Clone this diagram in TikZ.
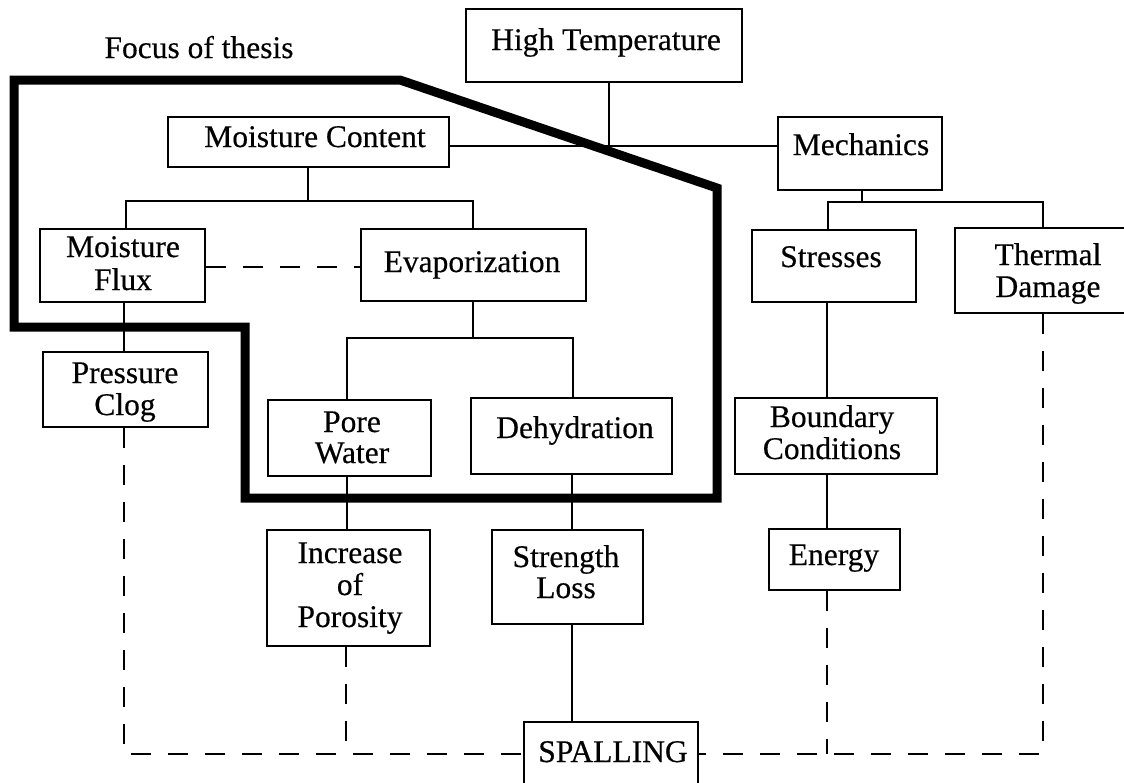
\documentclass[tikz,border=0pt]{standalone}
\usepackage{fontspec}
\setmainfont{Liberation Serif}[FakeBold=0.4]
\begin{document}
\begin{tikzpicture}[x=1pt,y=-1pt,
  box/.style={draw, line width=1.8pt, inner sep=0pt},
  txt/.style={anchor=base, inner sep=0pt, font=\fontsize{31.5}{32}\selectfont},
  link/.style={line width=1.8pt},
  dline/.style={line width=1.8pt, dash pattern=on 20pt off 17pt},
  focus/.style={line width=9pt, line join=miter}]
\useasboundingbox (0,0) rectangle (1124,782);
\fill[white] (0,0) rectangle (1124,782);

% boxes
\node[box, minimum width=276pt, minimum height=73pt] (ht) at (604,45.5) {};
\node[box, minimum width=281pt, minimum height=50pt] (mc) at (308.5,142) {};
\node[box, minimum width=164pt, minimum height=73pt] (mech) at (860,153.5) {};
\node[box, minimum width=165pt, minimum height=73pt] (mf) at (122.5,265.5) {};
\node[box, minimum width=225pt, minimum height=72pt] (ev) at (473.5,265) {};
\node[box, minimum width=164pt, minimum height=72pt] (st) at (834,266) {};
\node[box, minimum width=186pt, minimum height=85pt] (td) at (1048,270.5) {};
\node[box, minimum width=165pt, minimum height=75pt] (pc) at (125.5,389.5) {};
\node[box, minimum width=163pt, minimum height=76pt] (pw) at (349.5,438) {};
\node[box, minimum width=201pt, minimum height=76pt] (de) at (571.5,436) {};
\node[box, minimum width=202pt, minimum height=76pt] (bc) at (836,436) {};
\node[box, minimum width=163pt, minimum height=116pt] (ip) at (348.5,588) {};
\node[box, minimum width=151pt, minimum height=94pt] (sl) at (567.5,577) {};
\node[box, minimum width=131pt, minimum height=61pt] (en) at (834.5,559.5) {};
\node[box, minimum width=174pt, minimum height=78pt] (sp) at (611,761) {};

% texts
\node[txt] (tfocus) at (199,58) {Focus of thesis};
\node[txt] (tht) at (606,50) {High Temperature};
\node[txt] (tmc) at (315,147) {Moisture Content};
\node[txt] (tmech) at (861,155) {Mechanics};
\node[txt] (tmf1) at (123,257) {Moisture};
\node[txt] (tmf2) at (123,290) {Flux};
\node[txt] (tev) at (472,272) {Evaporization};
\node[txt] (tst) at (831,267) {Stresses};
\node[txt] (ttd1) at (1048,265) {Thermal};
\node[txt] (ttd2) at (1048,297) {Damage};
\node[txt] (tpc1) at (125,383) {Pressure};
\node[txt] (tpc2) at (125,415) {Clog};
\node[txt] (tpw1) at (352,432) {Pore};
\node[txt] (tpw2) at (352,463) {Water};
\node[txt] (tde) at (575,438) {Dehydration};
\node[txt] (tbc1) at (832,427) {Boundary};
\node[txt] (tbc2) at (832,459) {Conditions};
\node[txt] (tip1) at (350,563) {Increase};
\node[txt] (tip2) at (350,595) {of};
\node[txt] (tip3) at (350,627) {Porosity};
\node[txt] (tsl1) at (566,567) {Strength};
\node[txt] (tsl2) at (566,598) {Loss};
\node[txt] (ten) at (834,565) {Energy};
\node[txt] (tsp) at (613,762) {SPALLING};

% junction coordinates
\coordinate (j0) at (609,146);
\coordinate (j1) at (308,201);
\coordinate (c1l) at (126,201);
\coordinate (c1r) at (473,201);
\coordinate (j2) at (473,338);
\coordinate (c2l) at (347,338);
\coordinate (c2r) at (573,338);
\coordinate (j3) at (862,202);
\coordinate (c3l) at (828,202);
\coordinate (c3r) at (1043,202);
\coordinate (xa) at (124,0);
\coordinate (xb) at (347,0);
\coordinate (xc) at (572,0);
\coordinate (xd) at (827,0);
\coordinate (yd) at (0,267);
\coordinate (dl) at (124,754);
\coordinate (dr) at (1043,754);
\coordinate (dip) at (346,754);
\coordinate (den) at (827,754);

% solid connectors
\draw[link] (ht.south -| j0) -- (j0);
\draw[link] (mc.east |- j0) -- (mech.west |- j0);
\draw[link] (mc.south -| j1) -- (j1);
\draw[link] (mf.north -| c1l) -- (c1l) -- (c1r) -- (ev.north -| c1r);
\draw[link] (ev.south -| j2) -- (j2);
\draw[link] (pw.north -| c2l) -- (c2l) -- (c2r) -- (de.north -| c2r);
\draw[link] (mf.south -| xa) -- (pc.north -| xa);
\draw[link] (pw.south -| xb) -- (ip.north -| xb);
\draw[link] (de.south -| xc) -- (sl.north -| xc);
\draw[link] (sl.south -| xc) -- (sp.north -| xc);
\draw[link] (mech.south -| j3) -- (j3);
\draw[link] (st.north -| c3l) -- (c3l) -- (c3r) -- (td.north -| c3r);
\draw[link] (st.south -| xd) -- (bc.north -| xd);
\draw[link] (bc.south -| xd) -- (en.north -| xd);

% dashed connectors
\draw[dline] (mf.east |- yd) -- (ev.west |- yd);
\draw[dline] (pc.south -| dl) -- (dl) -- (sp.west |- dl);
\draw[dline] (ip.south -| dip) -- (dip);
\draw[dline] (en.south -| den) -- (den);
\draw[dline] (td.south -| dr) -- (dr) -- (sp.east |- dr);

% focus outline
\draw[focus] (14,80) -- (400,80) -- (717,188) -- (717,498) -- (245,498)
  -- (245,327) -- (14,327) -- cycle;
\end{tikzpicture}
\end{document}
